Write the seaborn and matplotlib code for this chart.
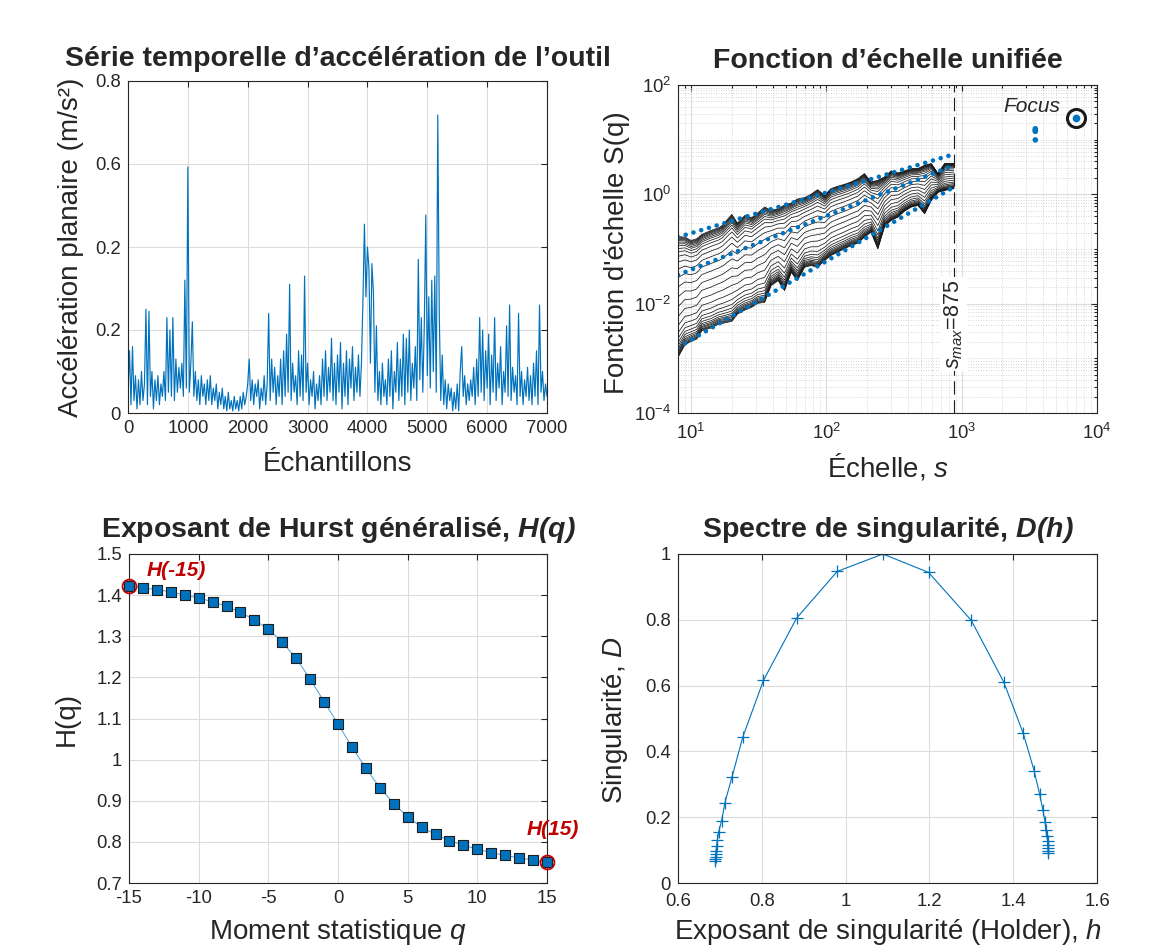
import numpy as np
import pandas as pd
import matplotlib
matplotlib.use("Agg")
import matplotlib.pyplot as plt
import seaborn as sns
from matplotlib.ticker import FixedLocator, LogLocator, NullFormatter

# -----------------------------
# STYLE
# -----------------------------
sns.set_theme(style="white")
plt.rcParams["font.family"] = ["Liberation Sans", "DejaVu Sans"]
plt.rcParams["mathtext.fontset"] = "custom"
plt.rcParams["mathtext.rm"] = "Liberation Sans"
plt.rcParams["mathtext.it"] = "Liberation Sans:italic"
plt.rcParams["mathtext.bf"] = "Liberation Sans:bold"
if "mathtext.bfit" in plt.rcParams:
    plt.rcParams["mathtext.bfit"] = "Liberation Sans:italic:bold"
    BFIT = r"\mathbfit"
else:
    BFIT = r"\mathbf"
plt.rcParams["axes.unicode_minus"] = False

BLUE = "#0072BD"
RED = "#C00000"
AXC = "#262626"

# -----------------------------
# DATA: acceleration time series (read every 25 samples)
# -----------------------------
sample_step = 25
accel = [
    0.05, 0.15, 0.02, 0.16, 0.03, 0.09, 0.01, 0.08, 0.02, 0.10,
    0.03, 0.07, 0.25, 0.02, 0.245, 0.04, 0.10, 0.01, 0.08, 0.03,
    0.09, 0.02, 0.07, 0.04, 0.10, 0.03, 0.23, 0.05, 0.20, 0.04,
    0.23, 0.03, 0.13, 0.05, 0.11, 0.06, 0.12, 0.04, 0.32, 0.06,
    0.593, 0.05, 0.12, 0.22, 0.04, 0.10, 0.03, 0.08, 0.02, 0.09,
    0.04, 0.07, 0.02, 0.08, 0.03, 0.09, 0.02, 0.06, 0.03, 0.07,
    0.01, 0.05, 0.02, 0.06, 0.01, 0.04, 0.005, 0.05, 0.01, 0.03,
    0.005, 0.04, 0.01, 0.03, 0.005, 0.04, 0.01, 0.05, 0.02, 0.04,
    0.07, 0.13, 0.03, 0.08, 0.02, 0.07, 0.04, 0.08, 0.01, 0.06,
    0.03, 0.09, 0.02, 0.07, 0.24, 0.03, 0.13, 0.05, 0.11, 0.02,
    0.09, 0.04, 0.13, 0.02, 0.15, 0.04, 0.19, 0.05, 0.31, 0.03,
    0.12, 0.05, 0.09, 0.02, 0.15, 0.04, 0.14, 0.03, 0.33, 0.05,
    0.12, 0.02, 0.08, 0.04, 0.10, 0.01, 0.07, 0.03, 0.09, 0.02,
    0.13, 0.04, 0.15, 0.03, 0.11, 0.05, 0.18, 0.03, 0.12, 0.02,
    0.14, 0.05, 0.17, 0.01, 0.12, 0.04, 0.15, 0.02, 0.13, 0.06,
    0.16, 0.03, 0.11, 0.05, 0.14, 0.04, 0.12, 0.27, 0.455, 0.28,
    0.40, 0.35, 0.12, 0.36, 0.29, 0.05, 0.21, 0.03, 0.10, 0.02,
    0.12, 0.04, 0.08, 0.02, 0.13, 0.04, 0.15, 0.01, 0.10, 0.05,
    0.17, 0.03, 0.13, 0.04, 0.19, 0.02, 0.18, 0.05, 0.20, 0.03,
    0.12, 0.06, 0.16, 0.03, 0.37, 0.08, 0.23, 0.05, 0.21, 0.477,
    0.09, 0.28, 0.06, 0.32, 0.10, 0.33, 0.05, 0.718, 0.24, 0.03,
    0.14, 0.02, 0.08, 0.01, 0.07, 0.03, 0.06, 0.005, 0.05, 0.01,
    0.07, 0.005, 0.10, 0.16, 0.04, 0.09, 0.02, 0.07, 0.03, 0.08,
    0.04, 0.11, 0.02, 0.13, 0.04, 0.23, 0.05, 0.20, 0.03, 0.15,
    0.06, 0.19, 0.02, 0.14, 0.05, 0.23, 0.03, 0.12, 0.06, 0.16,
    0.02, 0.10, 0.05, 0.21, 0.04, 0.26, 0.03, 0.11, 0.05, 0.09,
    0.02, 0.24, 0.04, 0.10, 0.02, 0.08, 0.04, 0.11, 0.03, 0.09,
    0.02, 0.12, 0.04, 0.15, 0.02, 0.26, 0.05, 0.10, 0.03, 0.07,
    0.04,
]
samples = np.arange(len(accel)) * sample_step
accel_yticks = [0, 0.2, 0.4, 0.6, 0.8]
accel_yticklabels = ["0", "0.2", "0.2", "0.6", "0.8"]   # as printed on the original

# -----------------------------
# DATA: scaling functions (log10 values)
# -----------------------------
scales = [8, 9, 10, 11, 12, 14, 16, 17, 20, 22, 25, 28, 31, 35, 39, 44, 49, 55,
          61, 69, 77, 86, 97, 108, 121, 136, 152, 171, 191, 214, 240, 269, 301,
          338, 378, 424, 475, 532, 596, 668, 748, 875]
log_S_q15 = [-0.771, -0.783, -0.844, -0.813, -0.734, -0.661, -0.612, -0.569, -0.367, -0.526,
             -0.385, -0.428, -0.343, -0.232, -0.294, -0.263, -0.196, -0.159, -0.086, -0.061,
             0.0, 0.086, -0.018, 0.104, 0.147, 0.183, 0.226, 0.287, 0.379, 0.226,
             0.257, 0.318, 0.428, 0.391, 0.428, 0.471, 0.471, 0.532, 0.563, 0.379,
             0.563, 0.563]
log_S_qm15 = [-2.985, -2.752, -2.691, -2.648, -2.495, -2.446, -2.373, -2.361, -2.324, -2.190,
              -2.116, -2.067, -1.994, -1.976, -1.670, -1.578, -1.761, -1.425, -1.578, -1.333,
              -1.303, -1.333, -1.211, -1.119, -1.058, -0.997, -0.936, -0.893, -0.783, -0.691,
              -0.997, -0.587, -0.477, -0.416, -0.306, -0.232, -0.202, -0.355, -0.110, 0.037,
              0.073, 0.104]
s_max = 875
fit_q = [15, 2, -15]
fit_at_smin = [0.165, 0.0336, 0.00158]
fit_at_smax = [5.42, 3.40, 1.36]
half_s = 3500
half_S = [15.8, 15.0, 14.2, 9.9]
full_s = 7000
full_S = 25

# -----------------------------
# DATA: generalised Hurst exponent and singularity spectrum
# -----------------------------
q = list(range(-15, 16))
Hq = [1.423, 1.418, 1.413, 1.408, 1.400, 1.393, 1.384, 1.373, 1.358, 1.340,
      1.317, 1.286, 1.246, 1.196, 1.141, 1.087, 1.031, 0.979, 0.932, 0.893,
      0.861, 0.836, 0.818, 0.803, 0.792, 0.782, 0.774, 0.767, 0.761, 0.756,
      0.751]
h = [1.484, 1.483, 1.483, 1.482, 1.482, 1.480, 1.478, 1.476, 1.471, 1.463,
     1.450, 1.424, 1.377, 1.300, 1.198, 1.089, 0.980, 0.883, 0.804, 0.755,
     0.729, 0.712, 0.704, 0.697, 0.694, 0.692, 0.691, 0.690, 0.690, 0.689,
     0.689]
Dh = [0.090, 0.097, 0.105, 0.115, 0.128, 0.142, 0.160, 0.186, 0.221, 0.270,
      0.341, 0.455, 0.612, 0.798, 0.944, 1.000, 0.947, 0.805, 0.616, 0.445,
      0.323, 0.244, 0.189, 0.155, 0.130, 0.112, 0.097, 0.087, 0.079, 0.072,
      0.067]


def matlab_axes(ax):
    for sp in ax.spines.values():
        sp.set_visible(True)
        sp.set_color(AXC)
        sp.set_linewidth(0.8)
    ax.tick_params(which="both", direction="in", top=True, right=True,
                   labelsize=13.3, colors=AXC, width=0.8)
    ax.tick_params(which="major", length=4, pad=5)
    ax.tick_params(which="minor", length=2)
    ax.grid(True, which="major", color="#dcdcdc", lw=0.8)
    ax.set_axisbelow(True)


def gfmt(vals):
    return [f"{v:g}" for v in vals]


fig = plt.figure(figsize=(11.53, 9.51), dpi=100)
W, Hpx = 1153, 951
ax1 = fig.add_axes([128 / W, 1 - 413 / Hpx, 419 / W, 332 / Hpx])
ax2 = fig.add_axes([678 / W, 1 - 413 / Hpx, 419 / W, 328 / Hpx])
ax3 = fig.add_axes([129 / W, 1 - 883 / Hpx, 418 / W, 329 / Hpx])
ax4 = fig.add_axes([678 / W, 1 - 883 / Hpx, 419 / W, 329 / Hpx])

TFS = 20.5
LFS = 20

# -----------------------------
# PLOT 1: TIME SERIES
# -----------------------------
sns.lineplot(x=samples, y=accel, ax=ax1, color=BLUE, lw=0.85)
ax1.set_xlim(0, 7000)
ax1.set_ylim(0, 0.8)
ax1.set_xticks(range(0, 7001, 1000))
ax1.set_yticks(accel_yticks)
ax1.set_yticklabels(accel_yticklabels)
matlab_axes(ax1)
ax1.set_title("Série temporelle d’accélération de l’outil", fontsize=TFS,
              fontweight="bold", pad=11)
ax1.set_xlabel("Échantillons", fontsize=LFS)
ax1.set_ylabel("Accélération planaire (m/s²)", fontsize=LFS)
ax1.yaxis.set_label_coords(-0.105, 0.5)
ax1.xaxis.set_label_coords(0.5, -0.114)

# -----------------------------
# PLOT 2: UNIFIED SCALING FUNCTION
# -----------------------------
H_top, H_bot = Hq[-1], Hq[0]
top = np.array(log_S_q15)
bot = np.array(log_S_qm15)
rows = []
for qi, hv in zip(q, Hq):
    w = (hv - H_top) / (H_bot - H_top)
    vals = 10 ** (top + w * (bot - top))
    rows.append(pd.DataFrame({"s": scales, "S": vals, "q": qi}))
fam = pd.concat(rows, ignore_index=True)

ax2.set_xscale("log")
ax2.set_yscale("log")
sns.lineplot(data=fam, x="s", y="S", units="q", estimator=None, color="k",
             lw=0.55, ax=ax2, legend=False)
for lo, hi in zip(fit_at_smin, fit_at_smax):
    ax2.plot([scales[0], s_max], [lo, hi], color=BLUE, lw=3.3,
             linestyle=(0, (0.01, 1.75)), dash_capstyle="round")
ax2.axvline(s_max, color="k", lw=0.8, linestyle=(0, (12, 5)))
ax2.text(s_max, 0.0042, r"$s_{max}$=" + str(s_max), rotation=90, ha="center",
         va="center", fontsize=15.5,
         bbox=dict(fc="white", ec="none", pad=1.5))
sns.scatterplot(x=[half_s] * len(half_S), y=half_S, ax=ax2, color=BLUE, s=16,
                edgecolor="none", legend=False)
ax2.plot([full_s], [full_S], "o", ms=13, mfc="none", mec="k", mew=2.2)
ax2.plot([full_s], [full_S], "o", ms=4.5, color=BLUE)
ax2.text(3300, 41, "Focus", fontsize=15, fontstyle="italic", ha="center",
         va="center")
ax2.set_xlim(8, 1e4)
ax2.set_ylim(1e-4, 1e2)
ax2.yaxis.set_major_locator(FixedLocator([1e-4, 1e-2, 1, 1e2]))
ax2.yaxis.set_minor_locator(LogLocator(base=10, subs=np.arange(1, 10), numticks=50))
ax2.xaxis.set_major_locator(FixedLocator([10, 100, 1000, 10000]))
ax2.xaxis.set_minor_locator(LogLocator(base=10, subs=np.arange(2, 10), numticks=50))
ax2.xaxis.set_minor_formatter(NullFormatter())
ax2.yaxis.set_minor_formatter(NullFormatter())
matlab_axes(ax2)
ax2.tick_params(axis="x", which="major", pad=7)
ax2.grid(True, which="minor", color="#c8c8c8", lw=0.6, linestyle=(0, (1, 2)))
ax2.set_title("Fonction d’échelle unifiée", fontsize=TFS, fontweight="bold", pad=12)
ax2.set_xlabel("Échelle, $s$", fontsize=LFS)
ax2.set_ylabel("Fonction d'échelle S(q)", fontsize=LFS)
ax2.yaxis.set_label_coords(-0.115, 0.49)
ax2.xaxis.set_label_coords(0.5, -0.116)

# -----------------------------
# PLOT 3: GENERALISED HURST EXPONENT
# -----------------------------
sns.lineplot(x=q, y=Hq, ax=ax3, color="#4d9fd6", lw=0.7)
sns.scatterplot(x=q, y=Hq, ax=ax3, marker="s", s=48, color=BLUE,
                edgecolor="#1f1f1f", linewidth=0.8, legend=False, zorder=3,
                clip_on=False)
ax3.plot([q[0], q[-1]], [Hq[0], Hq[-1]], "o", ms=10, mfc="none", mec=RED,
         mew=1.3, clip_on=False, zorder=4)
ax3.text(-11.6, 1.461, "H(-15)", color=RED, fontsize=15, fontweight="bold",
         fontstyle="italic", ha="center", va="center")
ax3.text(15.4, 0.829, "H(15)", color=RED, fontsize=15, fontweight="bold",
         fontstyle="italic", ha="center", va="center")
ax3.set_xlim(-15, 15)
ax3.set_ylim(0.7, 1.5)
ax3.set_xticks(range(-15, 16, 5))
h_ticks = [0.7, 0.8, 0.9, 1.0, 1.1, 1.2, 1.3, 1.4, 1.5]
ax3.set_yticks(h_ticks)
ax3.set_yticklabels(gfmt(h_ticks))
matlab_axes(ax3)
ax3.set_title("Exposant de Hurst généralisé, $" + BFIT + "{H(q)}$", fontsize=TFS,
              fontweight="bold", pad=12)
ax3.set_xlabel("Moment statistique $q$", fontsize=LFS)
ax3.set_ylabel("H(q)", fontsize=LFS)
ax3.yaxis.set_label_coords(-0.117, 0.5)
ax3.xaxis.set_label_coords(0.5, -0.103)

# -----------------------------
# PLOT 4: SINGULARITY SPECTRUM
# -----------------------------
sns.lineplot(x=h, y=Dh, ax=ax4, sort=False, estimator=None, color=BLUE, lw=0.8,
             marker="+", markersize=9, markeredgewidth=0.9,
             markeredgecolor=BLUE)
ax4.set_xlim(0.6, 1.6)
ax4.set_ylim(0, 1)
x4 = [0.6, 0.8, 1.0, 1.2, 1.4, 1.6]
y4 = [0, 0.2, 0.4, 0.6, 0.8, 1.0]
ax4.set_xticks(x4)
ax4.set_xticklabels(gfmt(x4))
ax4.set_yticks(y4)
ax4.set_yticklabels(gfmt(y4))
matlab_axes(ax4)
ax4.tick_params(axis="x", which="major", pad=7)
ax4.set_title("Spectre de singularité, $" + BFIT + "{D(h)}$", fontsize=TFS,
              fontweight="bold", pad=12)
ax4.set_xlabel("Exposant de singularité (Holder), $h$", fontsize=LFS)
ax4.set_ylabel("Singularité, $D$", fontsize=LFS)
ax4.yaxis.set_label_coords(-0.115, 0.495)
ax4.xaxis.set_label_coords(0.5, -0.103)

fig.savefig("out.png", dpi=100)
